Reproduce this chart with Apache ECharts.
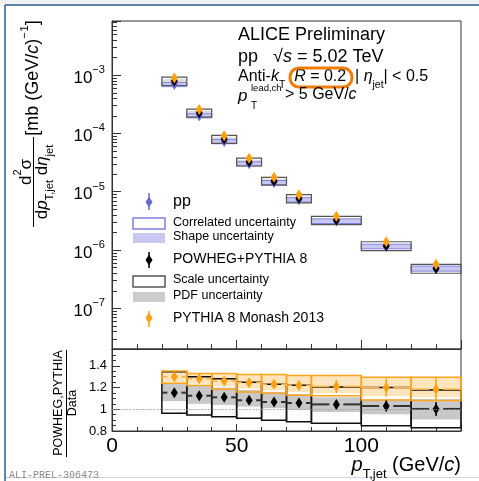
<!DOCTYPE html>
<html>
<head>
<meta charset="utf-8">
<script src="https://cdn.jsdelivr.net/npm/echarts@6/dist/echarts.min.js"></script>
<style>
html, body { margin: 0; padding: 0; background: #fff; }
#chart { width: 479px; height: 481px; }
</style>
</head>
<body>
<div id="chart"></div>
<script>
// jet pT bins (GeV/c)
var binLo = [20, 30, 40, 50, 60, 70, 80, 100, 120];
var binHi = [30, 40, 50, 60, 70, 80, 100, 120, 140];
// pp cross section, mb (GeV/c)^-1, and relative uncertainties
var ppXsec = [6.85e-4, 2.0e-4, 7.2e-5, 3.0e-5, 1.43e-5, 7.25e-6, 3.12e-6, 1.15e-6, 4.8e-7];
var ppStat = [0.005, 0.008, 0.01, 0.012, 0.015, 0.02, 0.025, 0.04, 0.06];
var ppCorr = [0.08, 0.08, 0.08, 0.08, 0.08, 0.08, 0.09, 0.09, 0.10];
var ppShape = [0.06, 0.06, 0.06, 0.06, 0.06, 0.06, 0.07, 0.07, 0.08];
// POWHEG+PYTHIA 8 / data
var powhegRatio = [1.153, 1.125, 1.11, 1.083, 1.067, 1.058, 1.045, 1.03, 1.003];
var powhegStat = [0.012, 0.015, 0.015, 0.02, 0.022, 0.025, 0.04, 0.05, 0.065];
var powhegScaleLo = [0.963, 0.947, 0.932, 0.917, 0.900, 0.886, 0.871, 0.849, 0.830];
var powhegScaleHi = [1.345, 1.300, 1.280, 1.250, 1.230, 1.222, 1.205, 1.200, 1.178];
var powhegPdfLo = [1.075, 1.050, 1.040, 1.025, 1.010, 0.995, 0.975, 0.955, 0.905];
var powhegPdfHi = [1.240, 1.220, 1.200, 1.178, 1.160, 1.140, 1.110, 1.090, 1.095];
// PYTHIA 8 Monash 2013 / data
var pythiaRatio = [1.30, 1.28, 1.26, 1.245, 1.23, 1.22, 1.21, 1.20, 1.185];
var pythiaStat = [0.02, 0.025, 0.025, 0.03, 0.03, 0.04, 0.06, 0.085, 0.10];
var pythiaBoxLo = [1.240, 1.220, 1.185, 1.160, 1.147, 1.130, 1.125, 1.086, 1.080];
var pythiaBoxHi = [1.353, 1.330, 1.330, 1.320, 1.320, 1.310, 1.310, 1.295, 1.295];
var pythiaFillLo = [1.250, 1.235, 1.210, 1.190, 1.175, 1.160, 1.150, 1.120, 1.110];
// log axis: decades and ROOT-style minor tick multipliers
var logDecades = [-8, -7, -6, -5, -4, -3];
var logMinorMult = [2, 3, 4, 5, 6, 7, 8, 9];
var logMin = 2.0e-8, logMax = 8.43e-3;

var FONT = '"Liberation Sans", Arial, Helvetica, sans-serif';
var BLUE = '#6b6bd0', ORANGE = '#ffa010';

function rich(fs, color) {
    var lh = Math.round(fs * 1.6);
    var s = Math.round(fs * 0.65 * 10) / 10;
    var c = color || '#000';
    function st(o) { o.fontFamily = FONT; o.color = c; o.fill = c; return o; }
    return {
        n: st({fontSize: fs, lineHeight: lh}),
        i: st({fontSize: fs, lineHeight: lh, fontStyle: 'italic'}),
        sup: st({fontSize: s, lineHeight: s, verticalAlign: 'top'}),
        sub: st({fontSize: s, lineHeight: s, verticalAlign: 'bottom'})
    };
}

var centers = binLo.map(function (l, i) { return (l + binHi[i]) / 2; });

// 盒子 (uncertainty boxes)
function boxes(ax, lo, hi, style, z) {
    return {
        type: 'custom', xAxisIndex: ax, yAxisIndex: ax, z: z, silent: true,
        encode: {x: [0, 1], y: [2, 3]},
        data: binLo.map(function (l, i) { return [l, binHi[i], lo[i], hi[i]]; }),
        renderItem: function (params, api) {
            var a = api.coord([api.value(0), api.value(3)]);
            var b = api.coord([api.value(1), api.value(2)]);
            return {type: 'rect', shape: {x: a[0], y: a[1], width: b[0] - a[0], height: b[1] - a[1]}, style: style};
        }
    };
}
// vertical error bars
function bars(ax, lo, hi, color, z) {
    return {
        type: 'custom', xAxisIndex: ax, yAxisIndex: ax, z: z, silent: true,
        encode: {x: 0, y: [1, 2]},
        data: centers.map(function (c, i) { return [c, lo[i], hi[i]]; }),
        renderItem: function (params, api) {
            var a = api.coord([api.value(0), api.value(1)]);
            var b = api.coord([api.value(0), api.value(2)]);
            return {type: 'line', shape: {x1: a[0], y1: a[1], x2: b[0], y2: b[1]}, style: {stroke: color, lineWidth: 1.5}};
        }
    };
}
// horizontal bin-width line with a gap around the marker
function hlines(ax, vals, color, width, z) {
    return {
        type: 'custom', xAxisIndex: ax, yAxisIndex: ax, z: z, silent: true,
        encode: {x: [0, 1], y: 2},
        data: binLo.map(function (l, i) { return [l, binHi[i], vals[i]]; }),
        renderItem: function (params, api) {
            var a = api.coord([api.value(0), api.value(2)]);
            var b = api.coord([api.value(1), api.value(2)]);
            var m = (a[0] + b[0]) / 2, g = 7;
            var s = {stroke: color, lineWidth: width};
            return {type: 'group', children: [
                {type: 'line', shape: {x1: a[0], y1: a[1], x2: m - g, y2: a[1]}, style: s},
                {type: 'line', shape: {x1: m + g, y1: a[1], x2: b[0], y2: a[1]}, style: s}
            ]};
        }
    };
}
function marks(ax, vals, color, z, extra) {
    var s = {
        type: 'scatter', xAxisIndex: ax, yAxisIndex: ax, z: z, silent: true,
        symbol: 'diamond', symbolSize: [7, 11],
        itemStyle: {color: color, opacity: 1},
        data: centers.map(function (c, i) { return [c, vals[i]]; })
    };
    if (extra) Object.assign(s, extra);
    return s;
}
function mul(a, b) { return a.map(function (v, i) { return v * b[i]; }); }
function rel(a, r, sign) { return a.map(function (v, i) { return v * (1 + sign * r[i]); }); }
function add(a, r, sign) { return a.map(function (v, i) { return v + sign * r[i]; }); }

var powhegXsec = mul(ppXsec, powhegRatio);
var pythiaXsec = mul(ppXsec, pythiaRatio);

// minor ticks of the log axis (2..9 x 10^n)
var minorTickVals = [];
logDecades.forEach(function (e) {
    logMinorMult.forEach(function (m) {
        var v = m * Math.pow(10, e);
        if (v > logMin && v < logMax) minorTickVals.push([0, v]);
    });
});
var logMinorSeries = {
    type: 'custom', xAxisIndex: 0, yAxisIndex: 0, z: 6, silent: true, clip: false,
    encode: {x: 0, y: 1},
    data: minorTickVals,
    renderItem: function (params, api) {
        var p = api.coord([0, api.value(1)]);
        var y = Math.round(p[1]) + 0.5;
        return {type: 'line', shape: {x1: p[0], y1: y, x2: p[0] + 5, y2: y}, style: {stroke: '#333', lineWidth: 1}};
    }
};

var series = [
    // top panel
    boxes(0, mul(ppXsec, powhegPdfLo), mul(ppXsec, powhegPdfHi), {fill: '#dcdcdc'}, 2),
    boxes(0, rel(ppXsec, ppShape, -1), rel(ppXsec, ppShape, 1), {fill: '#c8c8f0'}, 2),
    boxes(0, rel(ppXsec, ppCorr, -1), rel(ppXsec, ppCorr, 1), {fill: 'none', stroke: '#8080e0', lineWidth: 1}, 2),
    boxes(0, mul(ppXsec, powhegScaleLo), mul(ppXsec, powhegScaleHi), {fill: 'none', stroke: '#555', lineWidth: 1.2}, 2),
    bars(0, rel(ppXsec, ppStat, -1), rel(ppXsec, ppStat, 1), BLUE, 3),
    marks(0, ppXsec, BLUE, 3),
    bars(0, add(powhegXsec, mul(ppXsec, powhegStat), -1), add(powhegXsec, mul(ppXsec, powhegStat), 1), '#000', 4),
    marks(0, powhegXsec, '#000', 4),
    bars(0, add(pythiaXsec, mul(ppXsec, pythiaStat), -1), add(pythiaXsec, mul(ppXsec, pythiaStat), 1), ORANGE, 5),
    marks(0, pythiaXsec, ORANGE, 5),
    logMinorSeries,
    // ratio panel
    boxes(1, powhegPdfLo, powhegPdfHi, {fill: '#c8c8c8'}, 2),
    boxes(1, pythiaFillLo, pythiaBoxHi, {fill: 'rgba(255,170,40,0.3)'}, 2),
    boxes(1, powhegScaleLo, powhegScaleHi, {fill: 'none', stroke: '#111', lineWidth: 1.5}, 2),
    boxes(1, pythiaBoxLo, pythiaBoxHi, {fill: 'none', stroke: '#ffa31a', lineWidth: 1.5}, 2),
    hlines(1, powhegRatio, '#333', 2, 3),
    hlines(1, pythiaRatio, '#ffb347', 1.5, 3),
    bars(1, add(powhegRatio, powhegStat, -1), add(powhegRatio, powhegStat, 1), '#000', 4),
    marks(1, powhegRatio, '#000', 4, {
        markLine: {silent: true, symbol: 'none', label: {show: false},
            lineStyle: {type: 'dotted', color: '#999', width: 1.2}, data: [{yAxis: 1}]}
    }),
    bars(1, add(pythiaRatio, pythiaStat, -1), add(pythiaRatio, pythiaStat, 1), ORANGE, 5),
    marks(1, pythiaRatio, ORANGE, 5)
];

var axisLine = {show: true, lineStyle: {color: '#333', width: 1}};
function xAx(gi, labels) {
    return {
        gridIndex: gi, type: 'value', min: 0, max: 140, interval: 50,
        axisLine: axisLine,
        axisTick: {inside: true, length: gi === 0 ? 9 : 7, lineStyle: {color: '#333'}},
        minorTick: {show: true, splitNumber: 5, length: gi === 0 ? 5 : 4, lineStyle: {color: '#333'}},
        splitLine: {show: false},
        axisLabel: labels ? {fontSize: 21, fontFamily: FONT, color: '#000', margin: 5, showMaxLabel: false} : {show: false}
    };
}

var graphic = [
    // page frame
    {type: 'rect', shape: {x: 0, y: 0, width: 479, height: 4.5}, style: {fill: '#eef0f2'}},
    {type: 'line', shape: {x1: 5, y1: 5, x2: 479, y2: 5}, style: {stroke: '#2d5d8f', lineWidth: 1.5}},
    {type: 'line', shape: {x1: 5, y1: 5, x2: 5, y2: 481}, style: {stroke: '#2d5d8f', lineWidth: 1.5}},
    {type: 'line', shape: {x1: 6, y1: 477.5, x2: 479, y2: 477.5}, style: {stroke: '#cfd6de', lineWidth: 1}},
    {type: 'text', x: 9, y: 475, style: {text: 'ALI-PREL-306473', fontFamily: '"Liberation Mono", monospace', fontSize: 10, fill: '#8a8a8a', verticalAlign: 'middle'}},
    // header text
    {type: 'text', x: 238, y: 35, style: {text: '{n|ALICE Preliminary}', rich: rich(18), verticalAlign: 'middle'}},
    {type: 'text', x: 238, y: 57, style: {text: '{n|pp   \u221a}{i|s}{n| = 5.02 TeV}', rich: rich(18), verticalAlign: 'middle'}},
    {type: 'text', x: 238, y: 77, style: {text: '{n|Anti-}{i|k}{sub|T}{n|  }{i|R}{n| = 0.2  | }{i|\u03b7}{sub|jet}{n|| < 0.5}', rich: rich(16), verticalAlign: 'middle'}},
    {type: 'rect', shape: {x: 290, y: 68, width: 62, height: 19, r: 9}, style: {fill: 'none', stroke: '#f07c00', lineWidth: 3}},
    {type: 'text', x: 238, y: 96, style: {text: '{i|p}', rich: rich(17), verticalAlign: 'middle'}},
    {type: 'text', x: 251, y: 88, style: {text: 'lead,ch', fontFamily: FONT, fontSize: 9.5, fill: '#000', verticalAlign: 'middle'}},
    {type: 'text', x: 251, y: 106, style: {text: 'T', fontFamily: FONT, fontSize: 10, fill: '#000', verticalAlign: 'middle'}},
    {type: 'text', x: 285, y: 95, style: {text: '{n|> 5 GeV/}{i|c}', rich: rich(16), verticalAlign: 'middle'}},
    // legend
    {type: 'line', shape: {x1: 149, y1: 193, x2: 149, y2: 210}, style: {stroke: BLUE, lineWidth: 1.5}},
    {type: 'polygon', shape: {points: [[149, 196.5], [152.5, 202], [149, 207.5], [145.5, 202]]}, style: {fill: BLUE}},
    {type: 'text', x: 173, y: 202, style: {text: 'pp', fontFamily: FONT, fontSize: 16, fill: '#000', verticalAlign: 'middle'}},
    {type: 'rect', shape: {x: 133, y: 218, width: 32, height: 11}, style: {fill: '#fff', stroke: '#8080e0', lineWidth: 1.5}},
    {type: 'text', x: 173, y: 223, style: {text: 'Correlated uncertainty', fontFamily: FONT, fontSize: 12.5, fill: '#000', verticalAlign: 'middle'}},
    {type: 'rect', shape: {x: 133, y: 233, width: 32, height: 10}, style: {fill: '#c8c8f0'}},
    {type: 'text', x: 173, y: 237, style: {text: 'Shape uncertainty', fontFamily: FONT, fontSize: 12.5, fill: '#000', verticalAlign: 'middle'}},
    {type: 'line', shape: {x1: 149, y1: 252, x2: 149, y2: 268}, style: {stroke: '#000', lineWidth: 1.5}},
    {type: 'polygon', shape: {points: [[149, 254.5], [152.5, 260], [149, 265.5], [145.5, 260]]}, style: {fill: '#000'}},
    {type: 'text', x: 173, y: 259, style: {text: 'POWHEG+PYTHIA 8', fontFamily: FONT, fontSize: 14, fill: '#000', verticalAlign: 'middle'}},
    {type: 'rect', shape: {x: 133, y: 276, width: 32, height: 11}, style: {fill: '#fff', stroke: '#555', lineWidth: 1.5}},
    {type: 'text', x: 173, y: 280, style: {text: 'Scale uncertainty', fontFamily: FONT, fontSize: 12.5, fill: '#000', verticalAlign: 'middle'}},
    {type: 'rect', shape: {x: 133, y: 292, width: 32, height: 10}, style: {fill: '#cccccc'}},
    {type: 'text', x: 173, y: 296, style: {text: 'PDF uncertainty', fontFamily: FONT, fontSize: 12.5, fill: '#000', verticalAlign: 'middle'}},
    {type: 'line', shape: {x1: 149, y1: 311, x2: 149, y2: 327}, style: {stroke: ORANGE, lineWidth: 1.5}},
    {type: 'polygon', shape: {points: [[149, 312.5], [152.5, 318], [149, 323.5], [145.5, 318]]}, style: {fill: ORANGE}},
    {type: 'text', x: 173, y: 318, style: {text: 'PYTHIA 8 Monash 2013', fontFamily: FONT, fontSize: 14, fill: '#000', verticalAlign: 'middle'}},
    // y axis title (top)
    {type: 'text', x: 26, y: 172, rotation: Math.PI / 2, style: {text: '{n|d}{sup|2}{n|\u03c3}', rich: rich(17), align: 'center', verticalAlign: 'middle'}},
    {type: 'line', shape: {x1: 33.5, y1: 137, x2: 33.5, y2: 227}, style: {stroke: '#000', lineWidth: 1}},
    {type: 'text', x: 42, y: 182, rotation: Math.PI / 2, style: {text: '{n|d}{i|p}{sub|T,jet}{n| d}{i|\u03b7}{sub|jet}', rich: rich(17), align: 'center', verticalAlign: 'middle'}},
    {type: 'text', x: 33, y: 78, rotation: Math.PI / 2, style: {text: '{n|[mb (GeV/}{i|c}{n|)}{sup|\u22121}{n|]}', rich: rich(18), align: 'center', verticalAlign: 'middle'}},
    // ratio title
    {type: 'text', x: 59, y: 403, rotation: Math.PI / 2, style: {text: 'POWHEG,PYTHIA', fontFamily: FONT, fontSize: 12.5, fill: '#000', align: 'center', verticalAlign: 'middle'}},
    {type: 'line', shape: {x1: 66.5, y1: 350, x2: 66.5, y2: 457}, style: {stroke: '#000', lineWidth: 1}},
    {type: 'text', x: 73, y: 403, rotation: Math.PI / 2, style: {text: 'Data', fontFamily: FONT, fontSize: 12.5, fill: '#000', align: 'center', verticalAlign: 'middle'}},
    // x axis title
    {type: 'text', x: 461, y: 465, style: {text: '{i|p}{sub|T,jet}{n| (GeV/}{i|c}{n|)}', rich: rich(20), align: 'right', verticalAlign: 'middle'}}
];

var myChart = echarts.init(document.getElementById('chart'));
var option = {
    animation: false,
    backgroundColor: '#fff',
    grid: [
        {left: 112, top: 21, width: 349, height: 328, show: true, borderColor: '#333', borderWidth: 1},
        {left: 112, top: 349, width: 349, height: 82, show: true, borderColor: '#333', borderWidth: 1}
    ],
    xAxis: [xAx(0, false), xAx(1, true)],
    yAxis: [
        {
            gridIndex: 0, type: 'log', logBase: 10, min: logMin, max: logMax,
            axisLine: axisLine,
            axisTick: {inside: true, length: 9, lineStyle: {color: '#333'}},
            splitLine: {show: false},
            axisLabel: {
                margin: 7, padding: [6, 0, 0, 0], rich: rich(17),
                formatter: function (v) {
                    var e = Math.log10(v), r = Math.round(e);
                    if (Math.abs(e - r) > 1e-6) return '';
                    return '{n|10}{sup|' + (r < 0 ? '\u2212' + (-r) : r) + '}';
                }
            }
        },
        {
            gridIndex: 1, type: 'value', min: 0.8, max: 1.555, interval: 0.2,
            axisLine: axisLine,
            axisTick: {inside: true, length: 8, lineStyle: {color: '#333'}},
            minorTick: {show: true, splitNumber: 4, length: 4, lineStyle: {color: '#333'}},
            splitLine: {show: false},
            axisLabel: {
                margin: 5, fontSize: 13, fontFamily: FONT, color: '#000', showMaxLabel: false,
                formatter: function (v) { return String(+v.toFixed(2)); }
            }
        }
    ],
    graphic: graphic,
    series: series
};
myChart.setOption(option);
</script>
</body>
</html>
